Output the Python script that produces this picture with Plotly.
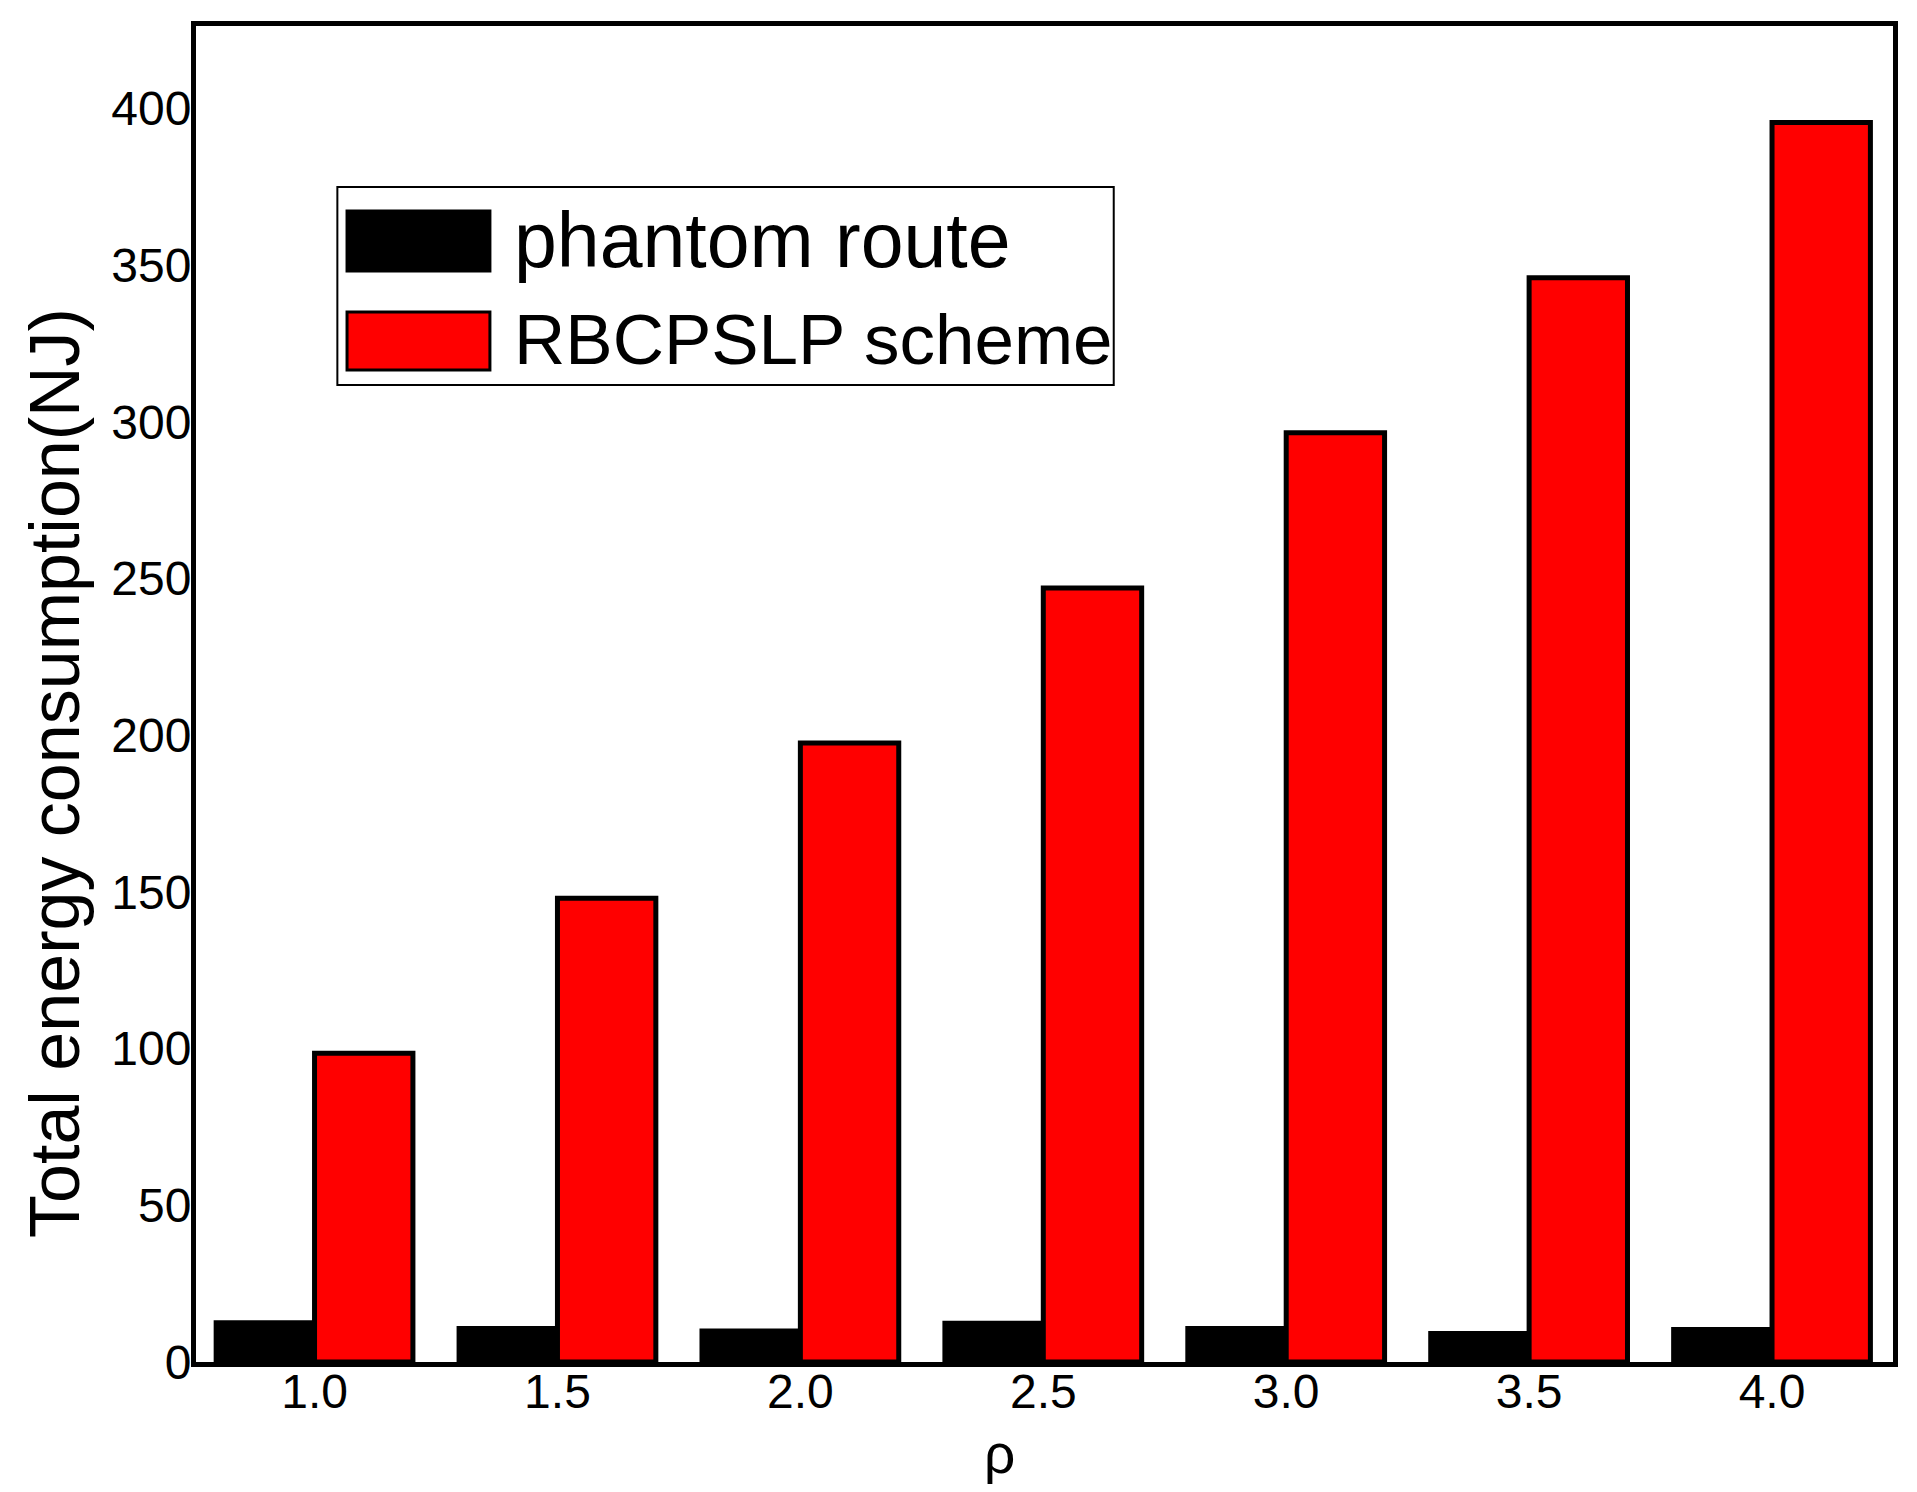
"""Grouped bar chart: total energy consumption versus rho."""

import plotly.graph_objects as go

# Data
rho = [1.0, 1.5, 2.0, 2.5, 3.0, 3.5, 4.0]
rho_labels = ["1.0", "1.5", "2.0", "2.5", "3.0", "3.5", "4.0"]
phantom_route = [12.5, 10.7, 9.9, 12.4, 10.7, 9.1, 10.4]
rbcpslp_scheme = [98.5, 148.0, 197.5, 247.0, 296.5, 346.0, 395.5]
y_ticks = [0, 50, 100, 150, 200, 250, 300, 350, 400]

series_names = ["phantom route", "RBCPSLP scheme"]
series_colors = ["#000000", "#ff0000"]

FONT = "Liberation Sans, Arial, sans-serif"

fig = go.Figure()

for name, values, color in zip(series_names, [phantom_route, rbcpslp_scheme], series_colors):
    fig.add_trace(
        go.Bar(
            x=rho,
            y=values,
            name=name,
            marker={"color": color, "line": {"color": "black", "width": 5}},
            showlegend=False,
        )
    )

# Hand-drawn legend with large swatches, as in the reference
legend_box = {"x0": 0.0833, "x1": 0.5408, "y0": 0.7313, "y1": 0.8795}
# (swatch bottom, swatch top, text y, text size) per row
legend_rows = [(0.8166, 0.8615, 0.840, 77), (0.7425, 0.7859, 0.765, 71)]
shapes = [
    dict(type="rect", xref="paper", yref="paper", line={"color": "black", "width": 2},
         fillcolor="white", **legend_box)
]
annotations = []
for (y0, y1, ty, size), name, color in zip(legend_rows, series_names, series_colors):
    shapes.append(
        dict(type="rect", xref="paper", yref="paper", x0=0.089, x1=0.1732, y0=y0, y1=y1,
             fillcolor=color, line={"color": "black", "width": 3})
    )
    annotations.append(
        dict(text=name, xref="paper", yref="paper", x=0.186, y=ty, xanchor="left",
             yanchor="middle", showarrow=False, font={"family": FONT, "size": size, "color": "black"})
    )

# Axis titles placed as annotations (offset from centre like the reference)
annotations.append(
    dict(text="Total energy consumption(NJ)", xref="paper", yref="paper", x=-0.0831, y=0.4409,
         xanchor="center", yanchor="middle", textangle=-90, showarrow=False,
         font={"family": FONT, "size": 70, "color": "black"})
)
annotations.append(
    dict(text="ρ", xref="paper", yref="paper", x=0.4732, y=-0.0692, xanchor="center",
         yanchor="middle", showarrow=False, font={"family": FONT, "size": 55, "color": "black"})
)

# The page body keeps its default 8px margin, so the figure is sized to fit inside it
fig.update_layout(
    width=1901,
    height=1476,
    margin={"l": 188, "r": 16, "t": 18, "b": 122},
    barmode="group",
    bargap=0.19,
    bargroupgap=0,
    plot_bgcolor="white",
    paper_bgcolor="white",
    font={"family": FONT, "color": "black"},
    shapes=shapes,
    annotations=annotations,
    xaxis={
        "range": [0.756, 4.249],
        "tickvals": rho,
        "ticktext": rho_labels,
        "tickfont": {"size": 48},
        "ticklabelstandoff": -17,
        "showline": True,
        "linecolor": "black",
        "linewidth": 5,
        "mirror": True,
        "showgrid": False,
        "zeroline": False,
        "ticks": "",
    },
    yaxis={
        "range": [0, 426.3],
        "tickvals": y_ticks,
        "tickfont": {"size": 48},
        "ticklabelstandoff": -10,
        "showline": True,
        "linecolor": "black",
        "linewidth": 5,
        "mirror": True,
        "showgrid": False,
        "zeroline": False,
        "ticks": "",
    },
)

fig.write_html("out.html")
